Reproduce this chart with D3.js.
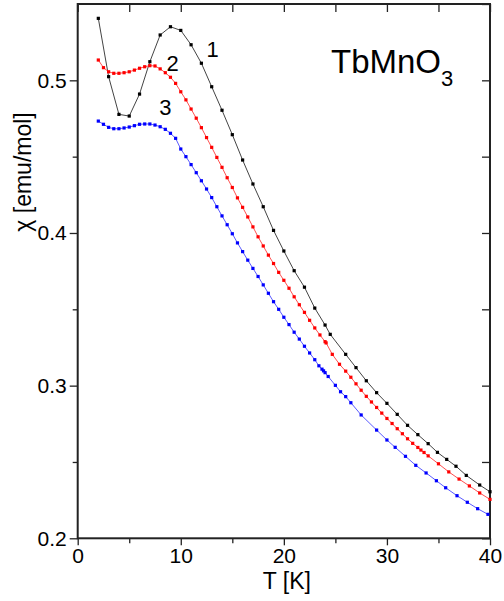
<!DOCTYPE html>
<html>
<head>
<meta charset="utf-8">
<script src="https://cdn.jsdelivr.net/npm/d3@7"></script>
<style>
  body { margin: 0; background: #fff; }
  svg text { font-family: "Liberation Sans", Arial, sans-serif; }
</style>
</head>
<body>
<div id="chart"></div>
<script>
// data
var t1 = [2, 3, 4, 5, 6, 7, 8, 9, 10, 11, 12, 13, 14, 15, 16, 17, 18, 19, 20, 21, 22, 23, 24, 24.5,
  26, 27, 28, 29, 30, 31, 32, 33, 34, 34.9, 35.8, 36.7, 37.7, 39, 40];
var chi1 = [0.5406, 0.5024, 0.4777, 0.4766, 0.4910, 0.5122, 0.5297, 0.5351, 0.5327, 0.5233, 0.5112,
  0.4958, 0.4804, 0.4644, 0.4478, 0.4321, 0.4172, 0.4017, 0.3882, 0.3753, 0.3645, 0.3508, 0.3397,
  0.3336, 0.3205, 0.3118, 0.3032, 0.2954, 0.2884, 0.2812, 0.2740, 0.2679, 0.2620, 0.2563, 0.2517,
  0.2472, 0.2412, 0.2349, 0.2305];

var t2 = [2, 2.5, 3, 3.5, 4, 4.5, 5, 5.5, 6, 6.5, 7, 7.5, 8, 8.5, 9, 9.5, 10, 10.5, 11, 11.5, 12,
  12.5, 13, 13.5, 14, 14.5, 15, 15.5, 16, 16.5, 17, 17.5, 18, 18.5, 19, 19.5, 20, 20.5, 21, 21.5,
  22, 22.5, 23, 23.5, 24, 24.1, 24.7, 25.4, 26, 26.5, 27, 27.5, 28, 28.5, 29, 29.5, 30, 30.5, 31,
  31.5, 32, 32.5, 33, 33.3, 33.6, 34, 35, 36, 37, 38, 39, 40];
var chi2 = [0.5133, 0.5083, 0.5056, 0.5046, 0.5046, 0.5050, 0.5056, 0.5067, 0.5079, 0.5089, 0.5096,
  0.5094, 0.5075, 0.5050, 0.5020, 0.4980, 0.4925, 0.4872, 0.4812, 0.4752, 0.4690, 0.4625, 0.4561,
  0.4495, 0.4430, 0.4362, 0.4298, 0.4230, 0.4168, 0.4105, 0.4040, 0.3975, 0.3915, 0.3855, 0.3800,
  0.3742, 0.3690, 0.3638, 0.3582, 0.3530, 0.3480, 0.3428, 0.3378, 0.3332, 0.3288, 0.3280, 0.3205,
  0.3140, 0.3095, 0.3055, 0.3012, 0.2970, 0.2930, 0.2893, 0.2857, 0.2820, 0.2785, 0.2752, 0.2718,
  0.2685, 0.2652, 0.2622, 0.2595, 0.2578, 0.2562, 0.2540, 0.2488, 0.2435, 0.2388, 0.2343, 0.2297,
  0.2255];

var t3 = [2, 2.5, 3, 3.5, 4, 4.5, 5, 5.5, 6, 6.5, 7, 7.5, 8, 8.5, 9, 9.5, 10, 10.5, 11, 11.5, 12,
  12.5, 13, 13.5, 14, 14.5, 15, 15.5, 16, 16.5, 17, 17.5, 18, 18.5, 19, 19.5, 20, 20.5, 21, 21.5,
  22, 22.5, 23, 23.4, 23.7, 23.85, 24, 24.3, 25, 25.5, 26, 26.5, 27.5, 29, 30, 30.8, 31.8, 32.8,
  33.8, 34.8, 35.7, 36.8, 37.8, 38.8, 39.8];
var chi3 = [0.4733, 0.4712, 0.4692, 0.4683, 0.4683, 0.4688, 0.4694, 0.4703, 0.4712, 0.4714, 0.4714,
  0.4707, 0.4696, 0.4679, 0.4653, 0.4620, 0.4550, 0.4500, 0.4448, 0.4395, 0.4342, 0.4288, 0.4232,
  0.4172, 0.4112, 0.4054, 0.3995, 0.3935, 0.3878, 0.3822, 0.3768, 0.3715, 0.3660, 0.3605, 0.3550,
  0.3500, 0.3448, 0.3400, 0.3350, 0.3305, 0.3258, 0.3214, 0.3170, 0.3130, 0.3108, 0.3097, 0.3085,
  0.3060, 0.3002, 0.2960, 0.2928, 0.2888, 0.2808, 0.2709, 0.2644, 0.2596, 0.2537, 0.2478, 0.2428,
  0.2377, 0.2331, 0.2279, 0.2236, 0.2194, 0.2157];

var xTicks = [0, 10, 20, 30, 40];
var yTicks = [0.2, 0.3, 0.4, 0.5];
var xMinor = [5, 15, 25, 35];
var yMinor = [0.25, 0.35, 0.45, 0.55];

// curve number labels sit at (T, chi) of their baseline centre
var series = [
  { name: "1", t: t1, chi: chi1, line: "#444", dot: "#000", lx: 13.1, ly: 0.5155 },
  { name: "2", t: t2, chi: chi2, line: "#ff5050", dot: "#f00", lx: 9.2, ly: 0.5062 },
  { name: "3", t: t3, chi: chi3, line: "#5a5aff", dot: "#00f", lx: 8.5, ly: 0.4773 }
];

var W = 504, H = 601;
var svg = d3.select("#chart").append("svg").attr("width", W).attr("height", H);

var x = d3.scaleLinear().domain([0, 40]).range([77.7, 490]);
var y = d3.scaleLinear().domain([0.2, 0.55]).range([538.3, 4]);

// axes
function axisG(axis, tr) {
  var g = svg.append("g").attr("transform", tr).call(axis);
  g.select(".domain").remove();
  g.selectAll("line").attr("stroke", "#222").attr("stroke-width", 1.3);
  g.selectAll("text").attr("font-size", "21px").attr("fill", "#000");
  return g;
}
var fmtY = function(d) { return d3.format(".1f")(d); };

axisG(d3.axisBottom(x).tickValues(xTicks).tickSize(7).tickPadding(3), "translate(0,538.3)");
axisG(d3.axisBottom(x).tickValues(xMinor).tickSize(5).tickFormat(""), "translate(0,538.3)");
axisG(d3.axisLeft(y).tickValues(yTicks).tickSize(8).tickPadding(3).tickFormat(fmtY), "translate(77.7,0)");
axisG(d3.axisLeft(y).tickValues(yMinor.filter(function(d) { return d < 0.55; })).tickSize(5).tickFormat(""), "translate(77.7,0)");
axisG(d3.axisTop(x).tickValues(xTicks.concat(xMinor)).tickSize(-8).tickFormat(""), "translate(0,4)");
axisG(d3.axisRight(y).tickValues(yTicks.concat(yMinor)).tickSize(-8).tickFormat(""), "translate(490,0)");

svg.append("rect")
  .attr("x", x(0)).attr("y", y(0.55))
  .attr("width", x(40) - x(0)).attr("height", y(0.2) - y(0.55))
  .attr("fill", "none").attr("stroke", "#222").attr("stroke-width", 2);

// curves
var line = d3.line()
  .x(function(d) { return x(d[0]); })
  .y(function(d) { return y(d[1]); });

series.forEach(function(s) {
  var pts = s.t.map(function(v, i) { return [v, s.chi[i]]; });
  svg.append("path").datum(pts)
    .attr("d", line)
    .attr("fill", "none")
    .attr("stroke", s.line)
    .attr("stroke-width", 1);
  svg.append("g").selectAll("rect").data(pts).enter()
    .append("rect")
    .attr("x", function(d) { return x(d[0]) - 1.6; })
    .attr("y", function(d) { return y(d[1]) - 1.6; })
    .attr("width", 3.2).attr("height", 3.2)
    .attr("fill", s.dot);
  svg.append("text")
    .attr("x", x(s.lx)).attr("y", y(s.ly))
    .attr("font-size", "22px")
    .attr("text-anchor", "middle")
    .text(s.name);
});

// compound label
var title = svg.append("text").attr("x", 331).attr("y", 73).attr("font-size", "33px");
title.append("tspan").text("TbMnO");
title.append("tspan").attr("font-size", "22px").attr("dy", 13).text("3");

// axis titles
svg.append("text")
  .attr("x", x(20) + 3).attr("y", 589)
  .attr("text-anchor", "middle")
  .attr("font-size", "23px")
  .text("T [K]");
svg.append("text")
  .attr("transform", "translate(31,172) rotate(-90)")
  .attr("text-anchor", "middle")
  .attr("font-size", "23px")
  .text("χ [emu/mol]");
</script>
</body>
</html>
